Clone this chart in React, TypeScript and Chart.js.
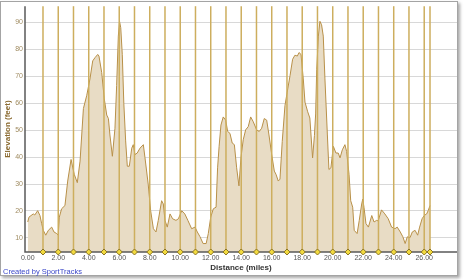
import React, { useEffect, useRef } from "react";
import { Chart, registerables } from "chart.js";

Chart.register(...registerables);

// Distance along the route (miles)
const DISTANCE_MI = [
  0.0, 0.08, 0.36, 0.46, 0.65, 0.8, 0.91, 1.02, 1.18, 1.35, 1.57, 1.72, 1.9, 2.0,
  2.07, 2.22, 2.44, 2.62, 2.84, 3.05, 3.25, 3.43, 3.65, 3.87, 4.08, 4.26, 4.41,
  4.59, 4.67, 4.85, 5.02, 5.18, 5.29, 5.39, 5.55, 5.72, 5.83, 5.94, 6.02, 6.1,
  6.2, 6.3, 6.42, 6.53, 6.66, 6.82, 6.92, 7.03, 7.18, 7.36, 7.58, 7.69, 7.9,
  8.06, 8.24, 8.41, 8.56, 8.78, 8.89, 9.0, 9.15, 9.33, 9.5, 9.72, 9.88, 10.1,
  10.3, 10.5, 10.75, 10.97, 11.12, 11.3, 11.5, 11.7, 11.84, 12.0, 12.17, 12.35,
  12.45, 12.55, 12.67, 12.82, 12.98, 13.11, 13.26, 13.41, 13.55, 13.7, 13.85,
  13.98, 14.13, 14.29, 14.46, 14.62, 14.79, 15.01, 15.18, 15.34, 15.51, 15.67,
  15.82, 16.0, 16.17, 16.28, 16.43, 16.54, 16.69, 16.87, 17.05, 17.2, 17.37,
  17.52, 17.68, 17.79, 17.92, 18.07, 18.18, 18.36, 18.5, 18.68, 18.8, 18.88,
  18.95, 19.06, 19.16, 19.27, 19.38, 19.49, 19.65, 19.75, 19.88, 20.04, 20.21,
  20.36, 20.48, 20.63, 20.8, 20.91, 21.07, 21.18, 21.31, 21.41, 21.6, 21.74,
  21.9, 21.97, 22.05, 22.18, 22.34, 22.56, 22.71, 22.88, 22.98, 23.2, 23.42,
  23.64, 23.86, 24.08, 24.23, 24.43, 24.6, 24.75, 24.89, 25.07, 25.22, 25.4,
  25.57, 25.7, 25.86, 26.0, 26.16, 26.26, 26.38,
];

// Elevation (feet)
const ELEVATION_FT = [
  15.9, 17.7, 18.9, 18.5, 20.1, 18.3, 15.4, 12.8, 11.0, 12.8, 14.0, 12.2, 11.6, 11.0,
  17.7, 20.8, 22.0, 31.1, 39.1, 33.6, 30.5, 38.5, 58.0, 62.9, 69.0, 75.7, 76.9,
  78.1, 77.5, 71.4, 61.6, 55.6, 54.3, 48.2, 40.3, 50.7, 66.6, 84.9, 90.4, 88.0,
  78.0, 60.0, 46.0, 36.6, 36.6, 43.3, 44.6, 40.9, 41.5, 43.3, 44.6, 39.7, 29.9,
  20.1, 13.4, 12.2, 16.5, 23.8, 22.6, 16.5, 14.0, 18.9, 17.1, 16.5, 17.1, 20.1,
  18.9, 16.5, 13.4, 14.0, 12.2, 10.4, 7.9, 7.9, 11.6, 17.7, 20.8, 21.4,
  36.0, 44.0, 51.9, 54.9, 53.7, 49.5, 48.8, 45.2, 44.6, 36.0, 29.3,
  39.7, 46.4, 50.1, 51.3, 54.9, 53.1, 50.1, 49.5, 50.7, 54.3, 53.7,
  48.2, 40.9, 34.8, 33.6, 31.1, 31.8, 45.8, 59.2, 65.3, 70.2, 76.3,
  77.8, 77.5, 78.8, 78.1, 69.0, 60.4, 56.8, 54.5, 39.7, 48.0, 56.0,
  72.6, 84.9, 90.4, 89.1, 84.9, 69.0, 48.2, 35.4, 36.0, 44.0, 41.5,
  41.5, 39.7, 42.7, 44.6, 42.1, 33.6, 23.8, 21.4, 12.8, 11.6, 16.5,
  22.6, 24.4, 21.4, 15.3, 14.0, 18.3, 15.9, 16.5, 16.3, 20.4, 18.9,
  17.1, 14.0, 13.4, 14.0, 12.2, 10.4, 7.9, 10.4, 10.1, 12.2, 12.8,
  11.0, 14.0, 17.1, 18.3, 18.9, 20.1, 22.0,
];

// Mile markers (vertical lines and diamonds)
const MILE_MARKERS = [
  1, 2, 3, 4, 5, 6, 7, 8, 9, 10, 11, 12, 13, 14, 15, 16, 17, 18, 19, 20, 21, 22,
  23, 24, 25, 26, 26.38,
];

const X_TICKS = [0, 2, 4, 6, 8, 10, 12, 14, 16, 18, 20, 22, 24, 26];
const Y_TICKS = [10, 20, 30, 40, 50, 60, 70, 80, 90];

const X_MIN = -0.18;
const X_MAX = 28.15;
const Y_MIN = 4.76;
const Y_MAX = 96;

const FONT = "'Liberation Sans', Arial, sans-serif";

export default function App() {
  const ref = useRef<HTMLCanvasElement>(null);

  useEffect(() => {
    const canvas = ref.current;
    if (!canvas) return;

    const markerLines = {
      id: "markerLines",
      afterDatasetDraw(chart: any, args: any) {
        if (args.index !== 0) return;
        const { ctx, chartArea, scales } = chart;
        ctx.save();
        ctx.strokeStyle = "#cdae5e";
        ctx.lineWidth = 1.5;
        for (const m of MILE_MARKERS) {
          const x = scales.x.getPixelForValue(m);
          ctx.beginPath();
          ctx.moveTo(x, chartArea.top);
          ctx.lineTo(x, chartArea.bottom);
          ctx.stroke();
        }
        // axis lines on top of the fill
        ctx.strokeStyle = "#5a5a5a";
        ctx.lineWidth = 1.5;
        ctx.beginPath();
        ctx.moveTo(chartArea.left, chartArea.top);
        ctx.lineTo(chartArea.left, chartArea.bottom);
        ctx.lineTo(chartArea.right, chartArea.bottom);
        ctx.stroke();
        ctx.restore();
      },
    };

    const chart = new Chart(canvas, {
      type: "line",
      data: {
        datasets: [
          {
            data: DISTANCE_MI.map((d, i) => ({ x: d, y: ELEVATION_FT[i] })),
            fill: "start",
            backgroundColor: "#e8dcc5",
            borderColor: "#b89048",
            borderWidth: 1,
            pointRadius: 0,
            tension: 0,
            order: 1,
          },
          {
            data: MILE_MARKERS.map((m) => ({ x: m, y: Y_MIN })),
            showLine: false,
            pointStyle: "rectRot",
            pointRadius: 3,
            pointBackgroundColor: "#f2da3e",
            pointBorderColor: "#8a7424",
            pointBorderWidth: 1,
            clip: false as any,
            order: 0,
          },
        ],
      },
      plugins: [markerLines],
      options: {
        animation: false,
        responsive: false,
        maintainAspectRatio: false,
        events: [],
        layout: { padding: { left: 0, top: 3, right: 7, bottom: 0 } },
        plugins: { legend: { display: false }, tooltip: { enabled: false } },
        scales: {
          x: {
            type: "linear",
            min: X_MIN,
            max: X_MAX,
            afterBuildTicks: (s: any) => {
              s.ticks = X_TICKS.map((v) => ({ value: v }));
            },
            afterFit: (s: any) => {
              s.height = 28;
            },
            grid: { display: false, drawTicks: false },
            border: { display: false },
            ticks: {
              padding: 2,
              autoSkip: false,
              maxRotation: 0,
              color: "#555555",
              font: { family: FONT, size: 7 },
              callback: (v: any) => Number(v).toFixed(2),
            },
            title: {
              display: true,
              text: "Distance (miles)",
              color: "#333333",
              font: { family: FONT, size: 8, weight: "bold" },
              padding: { top: 0, bottom: 7 },
            },
          },
          y: {
            type: "linear",
            min: Y_MIN,
            max: Y_MAX,
            afterBuildTicks: (s: any) => {
              s.ticks = Y_TICKS.map((v) => ({ value: v }));
            },
            afterFit: (s: any) => {
              s.width = 25;
            },
            grid: { color: "#d8d8d8", lineWidth: 1, drawTicks: false },
            border: { display: false },
            ticks: {
              padding: 2,
              color: "#a08c62",
              font: { family: FONT, size: 7 },
            },
            title: {
              display: true,
              text: "Elevation (feet)",
              color: "#8a6a30",
              font: { family: FONT, size: 8, weight: "bold" },
              padding: { top: 3, bottom: 0 },
            },
          },
        },
      },
    } as any);

    return () => chart.destroy();
  }, []);

  return (
    <div
      style={{
        position: "fixed",
        left: 0,
        top: 0,
        width: 464,
        height: 280,
        background: "#ffffff",
      }}
    >
      <div
        style={{
          position: "absolute",
          left: 0,
          top: 1,
          width: 458,
          height: 275,
          boxSizing: "border-box",
          border: "1px solid #a4a4a4",
          background: "#ffffff",
          boxShadow: "2px 2px 3px rgba(0,0,0,0.35)",
        }}
      />
      <canvas
        ref={ref}
        width={464}
        height={280}
        style={{ position: "absolute", left: 0, top: 0, display: "block" }}
      />
      <div
        style={{
          position: "absolute",
          left: 3,
          top: 267,
          fontFamily: FONT,
          fontSize: 7.5,
          lineHeight: "9px",
          color: "#3a46c8",
          whiteSpace: "nowrap",
        }}
      >
        Created by SportTracks
      </div>
    </div>
  );
}
